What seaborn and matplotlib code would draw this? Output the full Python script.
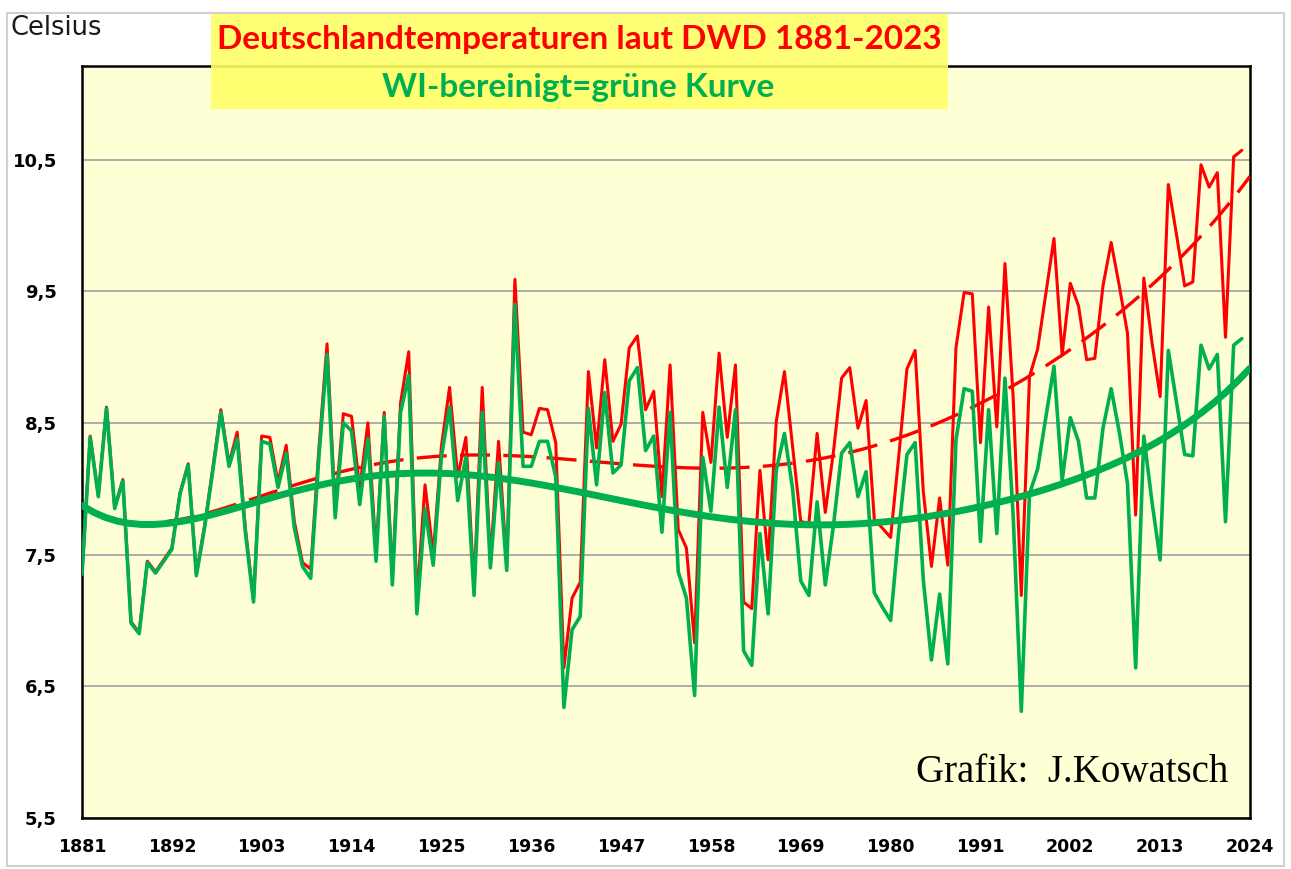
import numpy as np
import pandas as pd
import matplotlib
matplotlib.use('Agg')
import matplotlib.pyplot as plt
import seaborn as sns
from matplotlib.patches import Rectangle
import warnings
warnings.filterwarnings('ignore')

# Jahresmittel Deutschland (DWD) und WI-bereinigte Werte, 1881-2023
years = list(range(1881, 2024))

dwd = [7.35, 8.40, 7.95, 8.62, 7.86, 8.07, 6.99, 6.91, 7.45, 7.37,
       7.46, 7.55, 7.97, 8.19, 7.35, 7.72, 8.15, 8.60, 8.19, 8.43,
       7.70, 7.16, 8.40, 8.39, 8.05, 8.33, 7.75, 7.44, 7.39, 8.30,
       9.10, 7.85, 8.57, 8.55, 8.00, 8.50, 7.52, 8.58, 7.33, 8.65,
       9.04, 7.15, 8.03, 7.50, 8.32, 8.77, 8.09, 8.39, 7.25, 8.77,
       7.45, 8.36, 7.42, 9.59, 8.43, 8.41, 8.61, 8.60, 8.35, 6.64,
       7.17, 7.29, 8.89, 8.31, 8.98, 8.36, 8.49, 9.07, 9.16, 8.60,
       8.74, 7.94, 8.94, 7.69, 7.55, 6.83, 8.58, 8.20, 9.03, 8.39,
       8.94, 7.14, 7.09, 8.14, 7.46, 8.51, 8.89, 8.32, 7.75, 7.74,
       8.42, 7.82, 8.28, 8.84, 8.92, 8.46, 8.67, 7.77, 7.70, 7.63,
       8.25, 8.91, 9.05, 7.98, 7.41, 7.93, 7.42, 9.07, 9.49, 9.48,
       8.35, 9.38, 8.47, 9.71, 8.70, 7.19, 8.85, 9.06, 9.48, 9.90,
       9.02, 9.56, 9.39, 8.98, 8.99, 9.54, 9.87, 9.54, 9.18, 7.80,
       9.60, 9.11, 8.70, 10.31, 9.93, 9.54, 9.57, 10.46, 10.29, 10.40,
       9.15, 10.52, 10.57]

wi = [7.35, 8.39, 7.94, 8.61, 7.85, 8.06, 6.98, 6.90, 7.44, 7.36,
      7.45, 7.54, 7.96, 8.18, 7.34, 7.70, 8.13, 8.58, 8.17, 8.38,
      7.67, 7.14, 8.36, 8.34, 8.01, 8.27, 7.70, 7.41, 7.32, 8.24,
      9.02, 7.78, 8.50, 8.44, 7.88, 8.38, 7.45, 8.55, 7.27, 8.58,
      8.86, 7.05, 7.85, 7.42, 8.24, 8.62, 7.91, 8.24, 7.19, 8.58,
      7.40, 8.20, 7.38, 9.40, 8.17, 8.17, 8.36, 8.36, 8.09, 6.34,
      6.93, 7.03, 8.61, 8.03, 8.73, 8.12, 8.18, 8.82, 8.92, 8.29,
      8.40, 7.67, 8.58, 7.37, 7.17, 6.43, 8.24, 7.83, 8.62, 8.01,
      8.60, 6.77, 6.66, 7.66, 7.05, 8.14, 8.42, 8.00, 7.30, 7.19,
      7.90, 7.27, 7.72, 8.27, 8.35, 7.94, 8.13, 7.21, 7.10, 7.00,
      7.68, 8.26, 8.35, 7.31, 6.70, 7.20, 6.67, 8.37, 8.76, 8.74,
      7.60, 8.60, 7.66, 8.84, 7.80, 6.31, 7.96, 8.15, 8.54, 8.93,
      8.06, 8.54, 8.36, 7.93, 7.93, 8.46, 8.76, 8.43, 8.04, 6.64,
      8.40, 7.90, 7.46, 9.05, 8.66, 8.26, 8.25, 9.09, 8.91, 9.02,
      7.75, 9.09, 9.14]

xticks = [1881, 1892, 1903, 1914, 1925, 1936, 1947, 1958, 1969, 1980, 1991, 2002, 2013, 2024]
yticks = [5.5, 6.5, 7.5, 8.5, 9.5, 10.5]

df = pd.DataFrame({'Jahr': years, 'DWD': dwd, 'WI': wi})

RED = '#FF0000'
GREEN = '#00B050'

sns.set_style('white')
plt.rcParams['font.family'] = ['DejaVu Sans']

W, H = 1291, 869
fig = plt.figure(figsize=(W / 100, H / 100), dpi=100)
ax = fig.add_axes([82 / W, 1 - 818 / H, (1250 - 82) / W, (818 - 66) / H])
ax.set_facecolor('#FFFFD5')
ax.set_xlim(1881, 2024)
ax.set_ylim(5.5, 11.21)

# Messwerte und polynomische Trendlinien (Ordnung 6)
sns.lineplot(data=df, x='Jahr', y='DWD', color=RED, lw=2.2, ax=ax, zorder=3)
sns.regplot(data=df, x='Jahr', y='DWD', order=6, scatter=False, ci=None, truncate=False,
            color=RED, line_kws=dict(lw=2.4, ls=(0, (9, 4)), zorder=4), ax=ax)
sns.lineplot(data=df, x='Jahr', y='WI', color=GREEN, lw=2.6, ax=ax, zorder=5)
sns.regplot(data=df, x='Jahr', y='WI', order=6, scatter=False, ci=None, truncate=False,
            color=GREEN, line_kws=dict(lw=5, zorder=6), ax=ax)

ax.set_xlim(1881, 2024)
ax.set_ylim(5.5, 11.21)
ax.set_xlabel('')
ax.set_ylabel('')

ax.set_yticks(yticks)
ax.set_yticklabels([f'{v:.1f}'.replace('.', ',') for v in yticks])
ax.set_xticks(xticks)
ax.set_xticklabels([str(v) for v in xticks])
ax.tick_params(axis='y', direction='inout', length=12, width=1.5, pad=12,
               labelsize=13, colors='black')
ax.tick_params(axis='x', direction='inout', length=11, width=1.5, pad=9,
               labelsize=12.5, colors='black')
for lab in ax.get_yticklabels() + ax.get_xticklabels():
    lab.set_fontweight('bold')

ax.grid(axis='y', color='#A6A6A6', lw=1.3)
ax.grid(axis='x', visible=False)
ax.set_axisbelow(True)
for s in ax.spines.values():
    s.set_visible(True)
    s.set_color('black')
    s.set_linewidth(1.8)

# Rahmen, Titelkasten, Texte
fig.patches.append(Rectangle((7 / W, 1 - 866 / H), (1284 - 7) / W, (866 - 13) / H,
                             transform=fig.transFigure, fill=False, ec='#D0D0D0', lw=1.5))
fig.patches.append(Rectangle((211 / W, 1 - 109 / H), 737 / W, 95 / H,
                             transform=fig.transFigure, fc='#FFFF66', ec='none', alpha=0.9))

fig.text(579 / W, 1 - 40 / H, 'Deutschlandtemperaturen laut DWD 1881-2023',
         ha='center', va='center', fontsize=24, fontweight='bold', color=RED, family='Lato')
fig.text(578 / W, 1 - 87 / H, 'WI-bereinigt=grüne Kurve',
         ha='center', va='center', fontsize=24, fontweight='bold', color=GREEN, family='Lato')
fig.text(10 / W, 1 - 28 / H, 'Celsius', ha='left', va='center', fontsize=18.5, color='#1a1a1a')
fig.text(1228 / W, 1 - 772 / H, 'Grafik:  J.Kowatsch', ha='right', va='center',
         fontsize=28, family='Liberation Serif', color='black')

fig.savefig('out.png', dpi=100)
